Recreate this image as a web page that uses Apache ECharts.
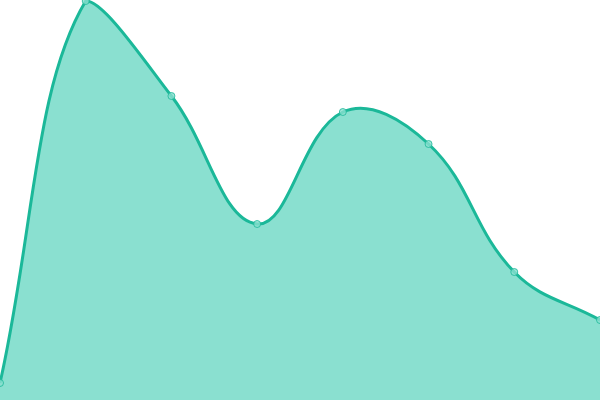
<!DOCTYPE html>
<html><head><meta charset="utf-8">
<script src="https://cdn.jsdelivr.net/npm/echarts@6/dist/echarts.min.js"></script>
<style>html,body{margin:0;padding:0;background:#fff}#c{width:600px;height:400px}</style>
</head><body><div id="c"></div>
<script>
const categories = ['1','2','3','4','5','6','7','8'];
const values = [17, 399, 304, 176, 288, 256, 128, 80];
const LINE = '#1bb899';
const FILL = '#8ae0d0';
const TENSION = 0.4;

function renderCurve(params, api) {
  const pts = values.map((v, i) => api.coord([i, v]));
  const base = api.coord([values.length - 1, 0])[1];
  const cs = params.coordSys;
  const top = cs.y, bottom = cs.y + cs.height;
  const clampY = y => Math.max(top, Math.min(bottom, y));
  const ctrl = [];
  for (let i = 0; i < pts.length; i++) {
    const p = pts[i], prev = pts[i - 1] || p, next = pts[i + 1] || p;
    const d01 = Math.hypot(p[0] - prev[0], p[1] - prev[1]);
    const d12 = Math.hypot(next[0] - p[0], next[1] - p[1]);
    let s01 = d01 / (d01 + d12), s12 = d12 / (d01 + d12);
    if (isNaN(s01)) s01 = 0; if (isNaN(s12)) s12 = 0;
    const fa = TENSION * s01, fb = TENSION * s12;
    const dx = next[0] - prev[0], dy = next[1] - prev[1];
    ctrl.push({
      inX: p[0] - fa * dx, inY: clampY(p[1] - fa * dy),
      outX: p[0] + fb * dx, outY: clampY(p[1] + fb * dy)
    });
  }
  let d = 'M' + pts[0][0] + ' ' + pts[0][1];
  for (let i = 1; i < pts.length; i++) {
    d += ' C' + ctrl[i - 1].outX + ' ' + ctrl[i - 1].outY + ' ' +
         ctrl[i].inX + ' ' + ctrl[i].inY + ' ' + pts[i][0] + ' ' + pts[i][1];
  }
  const area = d + ' L' + pts[pts.length - 1][0] + ' ' + base + ' L' + pts[0][0] + ' ' + base + ' Z';
  return {
    type: 'group',
    children: [
      {type: 'path', shape: {pathData: area}, style: {fill: FILL, stroke: null}},
      {type: 'path', shape: {pathData: d}, style: {fill: null, stroke: LINE, lineWidth: 3}}
    ]
  };
}

const chart = echarts.init(document.getElementById('c'));
chart.setOption({
  animation: false,
  grid: {left: 0, right: 0, top: 0, bottom: 0},
  xAxis: {type: 'category', data: categories, boundaryGap: false, show: false},
  yAxis: {type: 'value', min: 0, max: 400, show: false},
  series: [{
    type: 'custom',
    renderItem: renderCurve,
    data: [0],
    clip: true,
    z: 1
  }, {
    type: 'scatter',
    data: values,
    symbol: 'circle',
    symbolSize: 7,
    itemStyle: {color: FILL, borderColor: LINE, borderWidth: 1},
    z: 2
  }]
});
</script></body></html>
